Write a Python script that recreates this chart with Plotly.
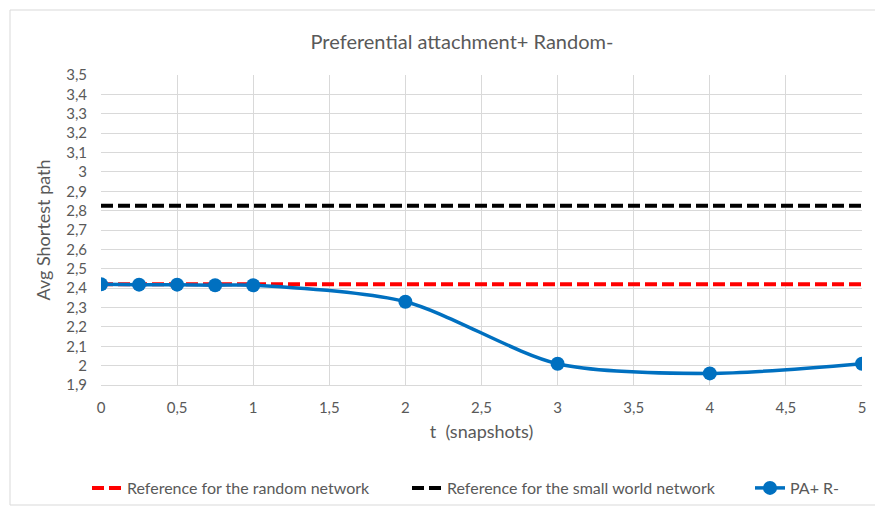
import plotly.graph_objects as go

t_vals = [0, 0.25, 0.5, 0.75, 1, 2, 3, 4, 5]
pa_r = [2.42, 2.418, 2.418, 2.415, 2.415, 2.33, 2.01, 1.96, 2.01]
ref_x = [0, 5]
ref_random = [2.42, 2.42]
ref_small_world = [2.825, 2.825]

FONT = "Lato"
GRAY = "#595959"

fig = go.Figure()
fig.add_trace(go.Scatter(x=ref_x, y=ref_random, mode="lines",
                         name="Reference for the random network", legend="legend",
                         line=dict(color="#ff0000", width=4, dash="12px,5px")))
fig.add_trace(go.Scatter(x=ref_x, y=ref_small_world, mode="lines",
                         name="Reference for the small world network", legend="legend2",
                         line=dict(color="#000000", width=4, dash="12px,5px")))
fig.add_trace(go.Scatter(x=t_vals, y=pa_r, mode="lines+markers", name="PA+ R-",
                         legend="legend3",
                         line=dict(color="#0070c0", width=3.5, shape="spline", smoothing=0.8),
                         marker=dict(color="#0070c0", size=14)))

W, H = 875, 509
L, R, T, B = 101, 13, 75, 124
pw, ph = W - L - R, H - T - B

def px(x):
    return (x - L) / pw

def py(y):
    return (H - B - y) / ph

def leg(xpix):
    return dict(orientation="h", x=px(xpix), xanchor="left", y=py(488), yanchor="middle",
                font=dict(size=16, color=GRAY), bgcolor="rgba(0,0,0,0)")

fig.update_layout(
    width=W, height=H,
    margin=dict(l=L, r=R, t=T, b=B, autoexpand=False),
    paper_bgcolor="white", plot_bgcolor="white",
    separators=",.",
    font=dict(family=FONT, size=15, color=GRAY),
    title=dict(text="Preferential attachment+ Random-", x=462 / W, xref="container",
               xanchor="center", y=1 - 42 / H, yanchor="middle",
               font=dict(family=FONT, size=20, color=GRAY)),
    xaxis=dict(range=[0, 5], dtick=0.5, tick0=0, showgrid=True, gridcolor="#d9d9d9",
               gridwidth=1, zeroline=False, showline=True, linecolor="#d9d9d9",
               ticks="", ticklabelstandoff=9, automargin=False,
               tickfont=dict(size=15, color=GRAY),
               title=dict(text="t  (snapshots)", font=dict(size=18, color=GRAY), standoff=10)),
    yaxis=dict(range=[1.9, 3.5], dtick=0.1, tick0=1.9, showgrid=True, gridcolor="#d9d9d9",
               gridwidth=1, zeroline=False, showline=False,
               ticks="", ticklabelstandoff=13, automargin=False,
               tickfont=dict(size=15, color=GRAY),
               title=dict(text="Avg Shortest path", font=dict(size=18, color=GRAY), standoff=10)),
    legend=leg(127 - 40),
    legend2=leg(447 - 40),
    legend3=leg(790 - 40),
    showlegend=True,
)
fig.add_shape(type="rect", xref="paper", yref="paper",
              x0=px(10), x1=px(880), y0=py(505), y1=py(10),
              line=dict(color="#d9d9d9", width=1), fillcolor="rgba(0,0,0,0)", layer="below")

fig.write_html("out.html")
